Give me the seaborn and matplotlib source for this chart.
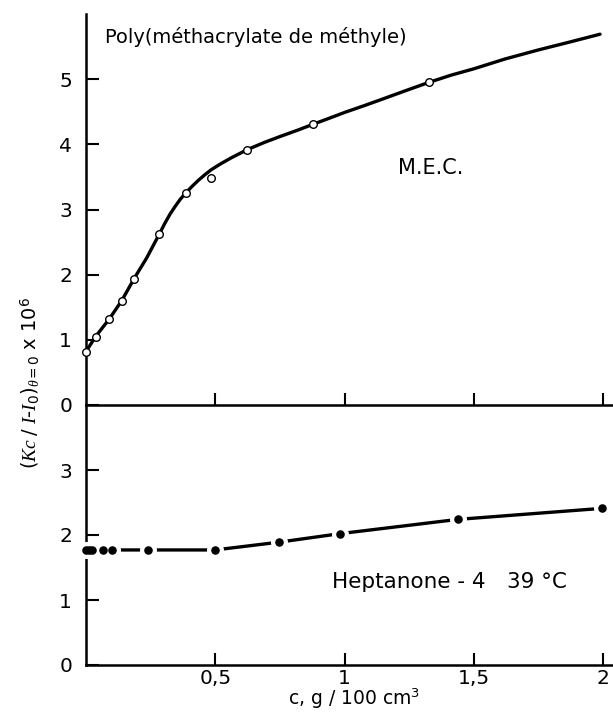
import matplotlib
matplotlib.use("Agg")
import matplotlib.pyplot as plt
import seaborn as sns

# Poly(methyl methacrylate) in M.E.C. (upper panel): measured points
mec_c = [0.0, 0.037, 0.09, 0.138, 0.186, 0.283, 0.387, 0.484, 0.624, 0.879, 1.325]
mec_val = [0.82, 1.05, 1.32, 1.60, 1.94, 2.62, 3.26, 3.49, 3.92, 4.31, 4.95]

# hand-drawn smooth curve through the M.E.C. points
mec_curve_c = [0.0, 0.037, 0.09, 0.138, 0.186, 0.235, 0.283, 0.305, 0.325, 0.345,
               0.365, 0.387, 0.41, 0.435, 0.46, 0.484, 0.52, 0.56, 0.624, 0.69,
               0.75, 0.82, 0.879, 0.94, 1.0, 1.08, 1.15, 1.24, 1.325, 1.41, 1.5,
               1.62, 1.75, 1.87, 1.987]
mec_curve_val = [0.82, 1.05, 1.32, 1.60, 1.94, 2.26, 2.62, 2.79, 2.93, 3.05,
                 3.16, 3.26, 3.355, 3.45, 3.535, 3.61, 3.70, 3.79, 3.92, 4.03,
                 4.12, 4.22, 4.31, 4.40, 4.49, 4.60, 4.70, 4.83, 4.95, 5.06, 5.16,
                 5.31, 5.45, 5.57, 5.69]

# Heptanone-4 at 39 °C (lower panel)
hep_c = [0.0, 0.012, 0.025, 0.066, 0.099, 0.238, 0.499, 0.747, 0.98, 1.437, 1.995]
hep_val = [1.77, 1.77, 1.77, 1.77, 1.77, 1.77, 1.77, 1.89, 2.02, 2.24, 2.41]

top_yticks = [0, 1, 2, 3, 4, 5]
bot_yticks = [0, 1, 2, 3]
xticks = [0.5, 1, 1.5, 2]
xtick_labels = ["0,5", "1", "1,5", "2"]

sns.set_theme(style="ticks")
plt.rcParams["font.family"] = ["DejaVu Sans"]
plt.rcParams["mathtext.fontset"] = "custom"
plt.rcParams["mathtext.rm"] = "DejaVu Sans"
plt.rcParams["mathtext.it"] = "Liberation Serif:italic"

fig = plt.figure(figsize=(6.13, 7.13), dpi=100)
W, H = 613, 713
x0, x1 = 86, 612
ax_top = fig.add_axes([x0 / W, 1 - 405 / H, (x1 - x0) / W, 391 / H])
ax_bot = fig.add_axes([x0 / W, 1 - 665 / H, (x1 - x0) / W, 260 / H])

xmax = (x1 - x0) / 258.7
ink = "black"

# upper panel
sns.lineplot(x=mec_curve_c, y=mec_curve_val, ax=ax_top, color=ink, lw=2.4,
             sort=False, estimator=None, zorder=3)
sns.scatterplot(x=mec_c, y=mec_val, ax=ax_top, marker="o", s=30,
                facecolor="white", edgecolor=ink, linewidth=1.0, zorder=4,
                clip_on=False)
ax_top.set_xlim(0, xmax)
ax_top.set_ylim(0, 6.0)
ax_top.set_yticks(top_yticks)
ax_top.set_xticks(xticks)
ax_top.set_xticklabels([])

# lower panel: a white halo under each dot breaks the line around it
sns.lineplot(x=hep_c, y=hep_val, ax=ax_bot, color=ink, lw=2.4,
             sort=False, estimator=None, zorder=3)
sns.scatterplot(x=hep_c, y=hep_val, ax=ax_bot, marker="o", s=150,
                color="white", linewidth=0, zorder=4, clip_on=False)
sns.scatterplot(x=hep_c, y=hep_val, ax=ax_bot, marker="o", s=38,
                color=ink, linewidth=0, zorder=5, clip_on=False)
ax_bot.set_xlim(0, xmax)
ax_bot.set_ylim(0, 4.0)
ax_bot.set_yticks(bot_yticks)
ax_bot.set_xticks(xticks)
ax_bot.set_xticklabels(xtick_labels)

for ax in (ax_top, ax_bot):
    sns.despine(ax=ax)
    ax.patch.set_alpha(0)
    for s in ("left", "bottom"):
        ax.spines[s].set_linewidth(1.8)
        ax.spines[s].set_color(ink)
    ax.tick_params(axis="both", direction="in", length=9, width=1.5,
                   color=ink, labelsize=14.5, labelcolor=ink)
    ax.tick_params(axis="y", pad=10)
    ax.tick_params(axis="x", pad=3)
    ax.set_xlabel("")
    ax.set_ylabel("")

ax_top.text(0.073, 5.65, "Poly(méthacrylate de méthyle)", fontsize=14,
            va="center", ha="left", color=ink)
ax_top.text(1.206, 3.64, "M.E.C.", fontsize=15, va="center", ha="left", color=ink)
ax_bot.text(0.951, 1.275, "Heptanone - 4", fontsize=15.5,
            va="center", ha="left", color=ink)
ax_bot.text((507 - x0) / 258.7, 1.275, "39 °C", fontsize=15.5,
            va="center", ha="left", color=ink)

fig.text(30 / W, 1 - 383 / H, r"$(Kc\ /\ I$-$I_0)_{\theta=0}$ x 10$^6$",
         rotation=90, fontsize=14, ha="center", va="center", color=ink)
fig.text(354 / W, 1 - 711 / H, r"c, g / 100 cm$^3$", fontsize=13.5,
         ha="center", va="bottom", color=ink)

fig.savefig("out.png", dpi=100)
